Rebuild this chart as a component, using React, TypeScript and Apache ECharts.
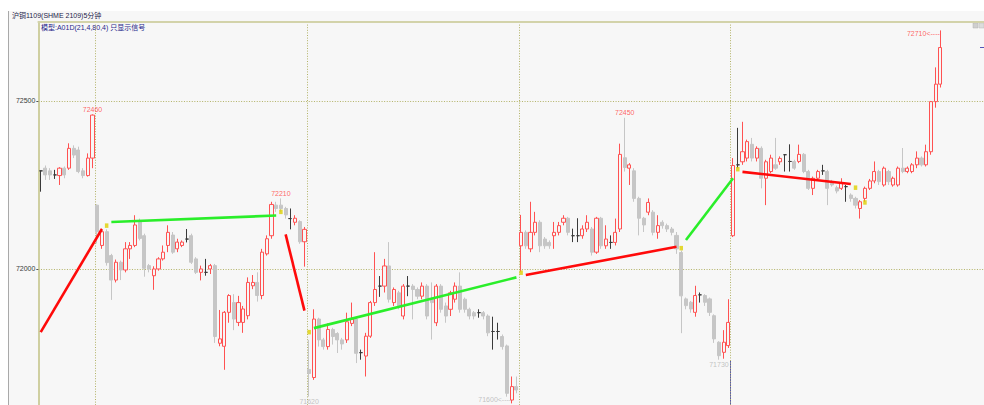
import React, { useEffect, useRef } from "react";
import * as echarts from "echarts";

// Each bar: [open, close, low, high]  (5-minute bars, one array per session)
const sessionA: number[][] = [
  [72292, 72292, 72230, 72293], [72300, 72280, 72265, 72308], [72292, 72280, 72265, 72300],
  [72280, 72280, 72268, 72295], [72278, 72300, 72250, 72303], [72300, 72280, 72270, 72305],
  [72300, 72359, 72295, 72374], [72359, 72339, 72330, 72368], [72354, 72290, 72285, 72364],
  [72292, 72278, 72270, 72300], [72278, 72330, 72275, 72344], [72330, 72458, 72300, 72460],
];
const sessionB: number[][] = [
  [72190, 72111, 72076, 72192], [72070, 72111, 72060, 72120], [72111, 72019, 72010, 72118],
  [72040, 71967, 71908, 72045], [71967, 72020, 71960, 72028], [72020, 71997, 71967, 72025],
  [71997, 72060, 71990, 72080], [72060, 72070, 72030, 72080], [72070, 72131, 72065, 72160],
  [72141, 72091, 72085, 72150], [72099, 72002, 71977, 72105], [72010, 72000, 71990, 72015],
  [71980, 72000, 71938, 72008], [72000, 72030, 71995, 72035], [72030, 72050, 72025, 72070],
  [72070, 72109, 72050, 72130], [72101, 72050, 72045, 72110], [72060, 72080, 72050, 72090],
  [72070, 72080, 72065, 72085], [72089, 72089, 72079, 72119], [72099, 72020, 72015, 72105],
  [72030, 71990, 71985, 72035], [71990, 72000, 71966, 72010], [71990, 71990, 71980, 72030],
  [72000, 72010, 71985, 72015], [72010, 71799, 71780, 72015], [71779, 71792, 71770, 71878],
  [71770, 71871, 71700, 71875], [71871, 71921, 71840, 71925], [71900, 71851, 71818, 71925],
  [71841, 71900, 71830, 71920], [71841, 71881, 71810, 71890], [71861, 71960, 71850, 71975],
  [71950, 71960, 71940, 71982], [71960, 71921, 71903, 71990], [71921, 72050, 71910, 72060],
  [72045, 72090, 72040, 72100], [72099, 72192, 72090, 72200], [72190, 72180, 72170, 72200],
  [72190, 72180, 72170, 72210], [72180, 72161, 72150, 72185], [72150, 72150, 72118, 72180],
  [72139, 72151, 72130, 72160], [72141, 72081, 72075, 72145], [72081, 72118, 72007, 72125],
];
const sessionC: number[][] = [
  [71701, 71689, 71620, 71789], [71677, 71851, 71670, 71880], [71851, 71789, 71769, 71855],
  [71789, 71769, 71760, 71795], [71769, 71820, 71760, 71838], [71820, 71799, 71775, 71825],
  [71808, 71789, 71750, 71812], [71789, 71777, 71760, 71795], [71789, 71843, 71780, 71870],
  [71838, 71851, 71830, 71900], [71851, 71749, 71720, 71858], [71751, 71751, 71730, 71760],
  [71741, 71800, 71680, 71810], [71800, 71900, 71795, 71905], [71900, 71939, 71890, 72050],
  [71949, 71949, 71917, 71979], [71949, 72009, 71930, 72030], [72009, 71910, 71900, 72080],
  [71900, 71939, 71890, 71945], [71929, 71890, 71880, 71935], [71860, 71949, 71850, 71955],
  [71949, 71949, 71919, 71979], [71949, 71939, 71850, 71955], [71939, 71919, 71910, 71945],
  [71919, 71949, 71910, 71960], [71949, 71860, 71850, 71955], [71910, 71900, 71790, 71960],
  [71840, 71949, 71830, 71955], [71949, 71880, 71870, 71955], [71890, 71860, 71840, 71900],
  [71880, 71929, 71860, 71935], [71910, 71949, 71900, 71960], [71949, 71880, 71870, 71990],
  [71910, 71880, 71870, 71915], [71880, 71860, 71850, 71885], [71870, 71860, 71850, 71875],
  [71870, 71870, 71855, 71880], [71870, 71860, 71850, 71875], [71860, 71810, 71800, 71865],
  [71814, 71814, 71760, 71858], [71814, 71814, 71790, 71840], [71799, 71769, 71760, 71805],
  [71771, 71630, 71620, 71775], [71610, 71650, 71600, 71680], [71650, 71640, 71630, 71680],
];
const sessionD: number[][] = [
  [72069, 72109, 71992, 72161], [72109, 72069, 72060, 72115], [72060, 72109, 72050, 72200],
  [72109, 72139, 72100, 72170], [72139, 72069, 72050, 72145], [72089, 72069, 72060, 72095],
  [72079, 72069, 72060, 72085], [72099, 72109, 72060, 72140], [72109, 72129, 72100, 72140],
  [72139, 72151, 72130, 72160], [72151, 72109, 72100, 72155], [72099, 72099, 72080, 72120],
  [72099, 72099, 72080, 72151], [72099, 72119, 72090, 72130], [72119, 72139, 72110, 72160],
  [72119, 72050, 72040, 72125], [72050, 72151, 72045, 72155], [72151, 72069, 72060, 72155],
  [72069, 72089, 72060, 72130], [72079, 72079, 72060, 72100], [72079, 72109, 72070, 72150],
  [72119, 72341, 72110, 72373], [72331, 72302, 72290, 72450], [72300, 72310, 72250, 72315],
  [72292, 72210, 72200, 72300], [72210, 72151, 72100, 72215], [72151, 72131, 72110, 72155],
  [72169, 72198, 72160, 72210], [72169, 72109, 72100, 72175], [72109, 72129, 72090, 72160],
  [72139, 72129, 72120, 72145], [72129, 72119, 72110, 72135], [72119, 72109, 72100, 72125],
  [72100, 72060, 72045, 72110], [72049, 71920, 71809, 72055], [71911, 71891, 71880, 71915],
  [71901, 71881, 71870, 71905], [71871, 71921, 71858, 71950], [71923, 71923, 71900, 71930],
  [71921, 71901, 71890, 71925], [71911, 71871, 71860, 71915], [71861, 71792, 71780, 71865],
  [71782, 71742, 71730, 71785], [71752, 71782, 71733, 71818], [71772, 71841, 71765, 71910],
];
const sessionE: number[][] = [
  [72099, 72308, 72095, 72330], [72310, 72310, 72300, 72420], [72319, 72349, 72310, 72438],
  [72330, 72379, 72320, 72385], [72371, 72330, 72320, 72390], [72330, 72359, 72320, 72365],
  [72359, 72270, 72240, 72365], [72270, 72319, 72190, 72325], [72290, 72330, 72285, 72340],
  [72310, 72300, 72295, 72390], [72319, 72329, 72310, 72335], [72340, 72340, 72290, 72342],
  [72320, 72320, 72290, 72371], [72320, 72300, 72295, 72325], [72320, 72341, 72315, 72370],
  [72341, 72290, 72285, 72345], [72290, 72240, 72235, 72295], [72240, 72270, 72220, 72275],
  [72270, 72290, 72265, 72295], [72292, 72292, 72280, 72310], [72290, 72240, 72190, 72295],
  [72260, 72250, 72245, 72265], [72242, 72232, 72225, 72248], [72240, 72255, 72235, 72270],
  [72245, 72245, 72200, 72250], [72220, 72210, 72200, 72225], [72210, 72190, 72180, 72215],
  [72180, 72200, 72150, 72205], [72210, 72240, 72200, 72245], [72240, 72262, 72235, 72268],
  [72262, 72290, 72255, 72320], [72290, 72260, 72250, 72295], [72250, 72300, 72245, 72305],
  [72290, 72260, 72250, 72295], [72250, 72270, 72245, 72275], [72250, 72300, 72245, 72305],
  [72300, 72290, 72285, 72360], [72290, 72300, 72285, 72305], [72290, 72310, 72285, 72315],
  [72310, 72330, 72300, 72350], [72330, 72310, 72305, 72335], [72310, 72349, 72305, 72370],
  [72349, 72498, 72340, 72500], [72498, 72550, 72480, 72600], [72550, 72659, 72540, 72710],
];

// Signal model lines: [[barIndex, price], [barIndex, price]]
const redSegments: number[][][] = [
  [[0, 71812], [13, 72119]],
  [[52, 72103], [56, 71876]],
  [[103, 71982], [135, 72066]],
  [[149, 72289], [172, 72253]],
];
const greenSegments: number[][][] = [
  [[15, 72140], [50, 72159]],
  [[58, 71824], [101, 71975]],
  [[137, 72086], [147, 72270]],
];
// Signal markers [barIndex, price]
const signalPoints: number[][] = [
  [14, 72129], [51, 72170], [57, 71812], [102, 71989],
  [136, 72062], [148, 72297], [173, 72242], [175, 72198],
];
// Marked extremes [barIndex, price]
const highMarks: number[][] = [[11, 72460], [51, 72210], [124, 72450]];
const lowMarks: number[][] = [[57, 71620], [144, 71730]];
const edgeHigh: number[][] = [[191, 72710]];
const edgeLow: number[][] = [[100, 71600]];

const yTicks = { min: 71500, max: 72735, step: 500 };
const SLOT_COUNT = 201;

const titleMain = "沪铜1109(SHME 2109)5分钟";
const titleModel = "模型:A01D(21,4,80,4) 只显示信号";

const FONT = "'Liberation Sans', 'Noto Sans CJK SC', sans-serif";

export default function App() {
  const ref = useRef<HTMLDivElement>(null);

  useEffect(() => {
    if (!ref.current) return;
    const chart = echarts.init(ref.current, undefined, { renderer: "svg" });

    const sessions = [sessionA, sessionB, sessionC, sessionD, sessionE];
    const bars = sessions.flat();
    const sessionStarts: number[] = [];
    let acc = 0;
    sessions.forEach((s, k) => {
      if (k > 0) sessionStarts.push(acc);
      acc += s.length;
    });
    const categories = Array.from({ length: SLOT_COUNT }, (_, i) => String(i));

    const gridLine = { color: "#b2b266", width: 1, type: [1, 1.6] as number[] };

    const lineSeries = (segs: number[][][], color: string) =>
      segs.map((seg) => ({
        type: "line",
        data: seg,
        symbol: "none",
        silent: true,
        z: 5,
        lineStyle: { color, width: 2.6 },
      }));

    const markLabel = (position: string, color: string, suffix: string, offset: number[]) => ({
      show: true,
      position,
      distance: position === "left" ? 0 : 1,
      offset,
      color,
      fontSize: 7,
      fontFamily: FONT,
      formatter: (p: any) => `${p.value[1]}${suffix}`,
    });

    const markSeries = (data: number[][], label: any) => ({
      type: "scatter",
      data,
      symbol: "circle",
      symbolSize: 1,
      z: 6,
      silent: true,
      itemStyle: { color: "rgba(0,0,0,0)" },
      label,
    });

    const option: any = {
      animation: false,
      backgroundColor: "#ffffff",
      grid: {
        left: 38.35,
        width: 946.7,
        top: 22,
        height: 415,
        containLabel: false,
        outerBoundsMode: "none",
      },
      xAxis: {
        type: "category",
        data: categories,
        position: "top",
        boundaryGap: true,
        axisLine: { show: true, lineStyle: { color: "#d3d3aa", width: 2 } },
        axisTick: { show: false },
        axisLabel: { show: false },
        splitLine: {
          show: true,
          interval: (index: number) => sessionStarts.includes(index),
          lineStyle: gridLine,
        },
      },
      yAxis: {
        type: "value",
        position: "left",
        min: yTicks.min,
        max: yTicks.max,
        interval: yTicks.step,
        axisLine: { show: true, lineStyle: { color: "#c2c284", width: 1.5 } },
        axisTick: { show: true, length: 2, lineStyle: { color: "#555555" } },
        axisLabel: {
          show: true,
          color: "#3a3a3a",
          fontSize: 7,
          fontFamily: FONT,
          margin: 3,
          showMaxLabel: false,
          showMinLabel: false,
          formatter: (v: number) => String(v),
        },
        splitLine: { show: true, showMaxLine: false, lineStyle: gridLine },
      },
      graphic: [
        {
          type: "rect",
          z: -100,
          silent: true,
          shape: { x: 8, y: 11, width: 976, height: 394 },
          style: { fill: "#f7f7f7" },
        },
        {
          type: "line",
          z: -99,
          silent: true,
          shape: { x1: 8.5, y1: 11, x2: 8.5, y2: 405 },
          style: { stroke: "#a9a9a9", lineWidth: 1 },
        },
        {
          type: "text",
          x: 12,
          y: 15.5,
          silent: true,
          style: {
            text: titleMain,
            fill: "#23234a",
            fontSize: 7,
            fontFamily: FONT,
            verticalAlign: "middle",
          },
        },
        {
          type: "text",
          x: 41,
          y: 27,
          silent: true,
          style: {
            text: titleModel,
            fill: "#1f1f8a",
            fontSize: 7,
            fontFamily: FONT,
            verticalAlign: "middle",
          },
        },
        {
          type: "line",
          silent: true,
          shape: { x1: 730.5, y1: 360, x2: 730.5, y2: 405 },
          style: { stroke: "#5555b5", lineWidth: 1 },
        },
        {
          type: "rect",
          silent: true,
          shape: { x: 973, y: 23, width: 5, height: 5 },
          style: { fill: "#cfcfcf", stroke: "#b0b0b0", lineWidth: 0.5 },
        },
        {
          type: "rect",
          silent: true,
          shape: { x: 979, y: 23, width: 5, height: 5 },
          style: { fill: "#dcdcdc", stroke: "#b8b8b8", lineWidth: 0.5 },
        },
        {
          type: "line",
          silent: true,
          shape: { x1: 980, y1: 47.5, x2: 984, y2: 47.5 },
          style: { stroke: "#5555b5", lineWidth: 1 },
        },
      ],
      series: [
        {
          type: "candlestick",
          data: bars,
          barWidth: 3.6,
          z: 3,
          silent: true,
          itemStyle: {
            color: "#f7f7f7",
            color0: "#c6c6c6",
            borderColor: "#ff5252",
            borderColor0: "#c6c6c6",
            borderColorDoji: "#3a3a3a",
            borderWidth: 1,
          },
        },
        ...lineSeries(redSegments, "#ff0a0a"),
        ...lineSeries(greenSegments, "#2aee2a"),
        {
          type: "scatter",
          data: signalPoints,
          symbol: "rect",
          symbolSize: [3.5, 4.5],
          z: 6,
          silent: true,
          itemStyle: { color: "#ddd000" },
        },
        markSeries(highMarks, markLabel("top", "#ff3c3c", "", [0, 0])),
        markSeries(lowMarks, markLabel("bottom", "#b4b4b4", "", [0, 0])),
        markSeries(edgeHigh, markLabel("left", "#ff3c3c", "<----", [0, 3.5])),
        markSeries(edgeLow, markLabel("left", "#b4b4b4", "<----", [0, -4])),
      ],
    };

    chart.setOption(option);
    return () => chart.dispose();
  }, []);

  return (
    <div
      ref={ref}
      style={{ position: "fixed", left: 0, top: 0, width: 984, height: 405 }}
    />
  );
}
